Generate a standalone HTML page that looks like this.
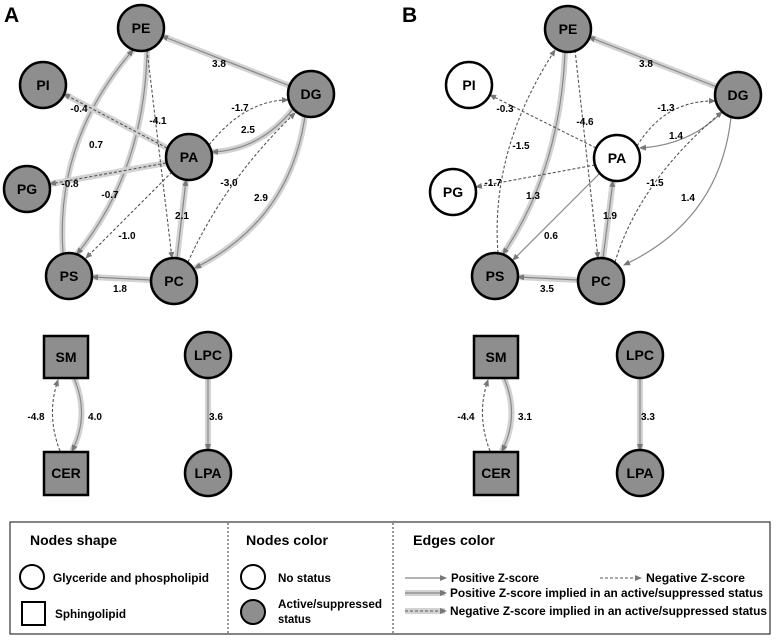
<!DOCTYPE html>
<html><head><meta charset="utf-8"><style>
html,body{margin:0;padding:0;background:#fff}
svg{display:block}
text{font-family:"Liberation Sans",Arial,sans-serif;font-weight:bold}
.n{font-size:14px;text-anchor:middle}
.e{font-size:10px;text-anchor:middle}
.h{fill:none;stroke:#d2d2d2;stroke-width:6}
.s{fill:none;stroke:#888;stroke-width:1.2;marker-end:url(#a)}
.d{fill:none;stroke:#555;stroke-width:1.1;stroke-dasharray:3,2;marker-end:url(#a)}
.g{fill:#8e8e8e;stroke:#000;stroke-width:2.5}
.w{fill:#fff;stroke:#000;stroke-width:2.5}
</style></head><body>
<svg width="777" height="640" viewBox="0 0 777 640" xmlns="http://www.w3.org/2000/svg">
<defs><marker id="a" markerWidth="7" markerHeight="6" refX="6" refY="3" orient="auto" markerUnits="userSpaceOnUse"><path d="M0,0 L7,3 L0,6 Z" fill="#777"/></marker></defs>
<text x="4" y="22" style="font-size:21px">A</text>
<text x="402" y="22" style="font-size:21px">B</text>

<!-- Panel A edges -->
<g>
<path class="h" d="M290,86 L162,36"/><path class="s" d="M290,86 L162,36"/>
<path class="h" d="M63,253 Q55,140 133,50"/><path class="s" d="M63,253 Q55,140 133,50"/>
<path class="h" d="M147,50 Q145,170 77,254"/><path class="s" d="M147,50 Q145,170 77,254"/>
<path class="h" d="M167,148 L64,94"/><path class="d" d="M167,148 L64,94"/>
<path class="h" d="M166,163 L50,184"/><path class="d" d="M166,163 L50,184"/>
<path class="d" d="M147,50 L172,258"/>
<path class="d" d="M209,145 Q245,100 288,100"/>
<path class="h" d="M293,109 Q260,150 212,152"/><path class="s" d="M293,109 Q260,150 212,152"/>
<path class="d" d="M172,172 L86,258"/>
<path class="h" d="M177,258 L186,180"/><path class="s" d="M177,258 L186,180"/>
<path class="d" d="M188,262 Q225,180 295,113"/>
<path class="h" d="M305,116 Q290,220 195,268"/><path class="s" d="M305,116 Q290,220 195,268"/>
<path class="h" d="M151,280 L92,277"/><path class="s" d="M151,280 L92,277"/>
</g>
<text class="e" x="219" y="67">3.8</text>
<text class="e" x="96" y="148">0.7</text>
<text class="e" x="110" y="198">-0.7</text>
<text class="e" x="79" y="112">-0.4</text>
<text class="e" x="70" y="187">-0.8</text>
<text class="e" x="158" y="124">-4.1</text>
<text class="e" x="240" y="111">-1.7</text>
<text class="e" x="248" y="133">2.5</text>
<text class="e" x="127" y="239">-1.0</text>
<text class="e" x="182" y="219">2.1</text>
<text class="e" x="229" y="186">-3.0</text>
<text class="e" x="261" y="201">2.9</text>
<text class="e" x="120" y="292">1.8</text>
<!-- Panel A nodes -->
<circle class="g" cx="141" cy="28" r="23"/><text class="n" x="141" y="33">PE</text>
<circle class="g" cx="43" cy="85" r="23"/><text class="n" x="43" y="90">PI</text>
<circle class="g" cx="311" cy="94" r="23"/><text class="n" x="311" y="99">DG</text>
<circle class="g" cx="189" cy="157" r="23"/><text class="n" x="189" y="162">PA</text>
<circle class="g" cx="27" cy="189" r="23"/><text class="n" x="27" y="194">PG</text>
<circle class="g" cx="69" cy="276" r="23"/><text class="n" x="69" y="281">PS</text>
<circle class="g" cx="174" cy="281" r="23"/><text class="n" x="174" y="286">PC</text>

<!-- Panel B edges -->
<g>
<path class="h" d="M717,87 L589,37"/><path class="s" d="M717,87 L589,37"/>
<path class="d" d="M498,253 Q490,150 555,50"/>
<path class="h" d="M565,52 Q560,170 503,254"/><path class="s" d="M565,52 Q560,170 503,254"/>
<path class="d" d="M596,148 L490,95"/>
<path class="d" d="M595,165 L476,187"/>
<path class="d" d="M575,50 L598,258"/>
<path class="d" d="M637,146 Q665,100 715,101"/>
<path class="s" d="M722,112 Q690,145 640,148"/>
<path class="s" d="M600,173 L513,260"/>
<path class="h" d="M603,258 L613,181"/><path class="s" d="M603,258 L613,181"/>
<path class="d" d="M615,262 Q640,180 722,112"/>
<path class="s" d="M731,117 Q720,220 624,265"/>
<path class="h" d="M578,280 L518,277"/><path class="s" d="M578,280 L518,277"/>
</g>
<text class="e" x="646" y="67">3.8</text>
<text class="e" x="521" y="149">-1.5</text>
<text class="e" x="533" y="199">1.3</text>
<text class="e" x="505" y="112">-0.3</text>
<text class="e" x="493" y="186">-1.7</text>
<text class="e" x="585" y="125">-4.6</text>
<text class="e" x="666" y="111">-1.3</text>
<text class="e" x="676" y="139">1.4</text>
<text class="e" x="551" y="239">0.6</text>
<text class="e" x="610" y="219">1.9</text>
<text class="e" x="655" y="186">-1.5</text>
<text class="e" x="688" y="201">1.4</text>
<text class="e" x="547" y="292">3.5</text>
<!-- Panel B nodes -->
<circle class="g" cx="568" cy="29" r="23"/><text class="n" x="568" y="34">PE</text>
<circle class="w" cx="469" cy="85" r="23"/><text class="n" x="469" y="90">PI</text>
<circle class="g" cx="738" cy="95" r="23"/><text class="n" x="738" y="100">DG</text>
<circle class="w" cx="617" cy="158" r="23"/><text class="n" x="617" y="163">PA</text>
<circle class="w" cx="453" cy="192" r="23"/><text class="n" x="453" y="197">PG</text>
<circle class="g" cx="495" cy="276" r="23"/><text class="n" x="495" y="281">PS</text>
<circle class="g" cx="601" cy="281" r="23"/><text class="n" x="601" y="286">PC</text>

<!-- Bottom A -->
<path class="d" d="M60,451 Q46,415 58,380"/>
<path class="h" d="M74,378 Q90,415 72,451"/><path class="s" d="M74,378 Q90,415 72,451"/>
<text class="e" x="36" y="420">-4.8</text>
<text class="e" x="95" y="420">4.0</text>
<rect class="g" x="44" y="336" width="44" height="42"/><text class="n" x="66" y="362">SM</text>
<rect class="g" x="44" y="452" width="44" height="43"/><text class="n" x="66" y="478">CER</text>
<path class="h" d="M208,378 L208,450"/><path class="s" d="M208,378 L208,450"/>
<text class="e" x="216" y="420">3.6</text>
<circle class="g" cx="208" cy="355" r="23"/><text class="n" x="208" y="360">LPC</text>
<circle class="g" cx="208" cy="473" r="23"/><text class="n" x="208" y="478">LPA</text>

<!-- Bottom B -->
<path class="d" d="M490,451 Q476,415 488,380"/>
<path class="h" d="M504,378 Q520,415 502,451"/><path class="s" d="M504,378 Q520,415 502,451"/>
<text class="e" x="466" y="420">-4.4</text>
<text class="e" x="525" y="420">3.1</text>
<rect class="g" x="474" y="336" width="44" height="42"/><text class="n" x="496" y="362">SM</text>
<rect class="g" x="474" y="452" width="44" height="43"/><text class="n" x="496" y="478">CER</text>
<path class="h" d="M640,378 L640,450"/><path class="s" d="M640,378 L640,450"/>
<text class="e" x="648" y="420">3.3</text>
<circle class="g" cx="640" cy="355" r="23"/><text class="n" x="640" y="360">LPC</text>
<circle class="g" cx="640" cy="473" r="23"/><text class="n" x="640" y="478">LPA</text>

<!-- Legend -->
<rect x="10" y="522" width="760" height="112" fill="none" stroke="#333" stroke-width="1.2"/>
<line x1="228" y1="523" x2="228" y2="633" stroke="#333" stroke-width="1" stroke-dasharray="2,2"/>
<line x1="393" y1="523" x2="393" y2="633" stroke="#333" stroke-width="1" stroke-dasharray="2,2"/>
<text x="30" y="545" style="font-size:14px" textLength="87" lengthAdjust="spacingAndGlyphs">Nodes shape</text>
<circle cx="32" cy="577" r="12" fill="#fff" stroke="#000" stroke-width="2"/>
<text x="53" y="582" style="font-size:12px" textLength="156" lengthAdjust="spacingAndGlyphs">Glyceride and phospholipid</text>
<rect x="22" y="602" width="23" height="23" fill="#fff" stroke="#000" stroke-width="2"/>
<text x="55" y="618" style="font-size:12px" textLength="71" lengthAdjust="spacingAndGlyphs">Sphingolipid</text>
<text x="246" y="545" style="font-size:14px" textLength="82" lengthAdjust="spacingAndGlyphs">Nodes color</text>
<circle cx="253" cy="577" r="12" fill="#fff" stroke="#000" stroke-width="2"/>
<text x="278" y="582" style="font-size:12px" textLength="53" lengthAdjust="spacingAndGlyphs">No status</text>
<circle cx="253" cy="612" r="12" fill="#8e8e8e" stroke="#000" stroke-width="2"/>
<text x="278" y="608" style="font-size:12px" textLength="104" lengthAdjust="spacingAndGlyphs">Active/suppressed</text>
<text x="278" y="623" style="font-size:12px" textLength="33" lengthAdjust="spacingAndGlyphs">status</text>
<text x="413" y="545" style="font-size:14px" textLength="82" lengthAdjust="spacingAndGlyphs">Edges color</text>
<path class="s" d="M405,578 L446,578"/>
<text x="451" y="582" style="font-size:12px" textLength="88" lengthAdjust="spacingAndGlyphs">Positive Z-score</text>
<path class="d" d="M600,578 L641,578"/>
<text x="646" y="582" style="font-size:12px" textLength="99" lengthAdjust="spacingAndGlyphs">Negative Z-score</text>
<path class="h" d="M405,593 L445,593"/><path class="s" d="M405,593 L446,593"/>
<text x="450" y="597" style="font-size:12px" textLength="313" lengthAdjust="spacingAndGlyphs">Positive Z-score implied in an active/suppressed status</text>
<path class="h" d="M405,611 L445,611"/><path class="d" d="M405,611 L446,611"/>
<text x="450" y="615" style="font-size:12px" textLength="317" lengthAdjust="spacingAndGlyphs">Negative Z-score implied in an active/suppressed status</text>
</svg>
</body></html>
